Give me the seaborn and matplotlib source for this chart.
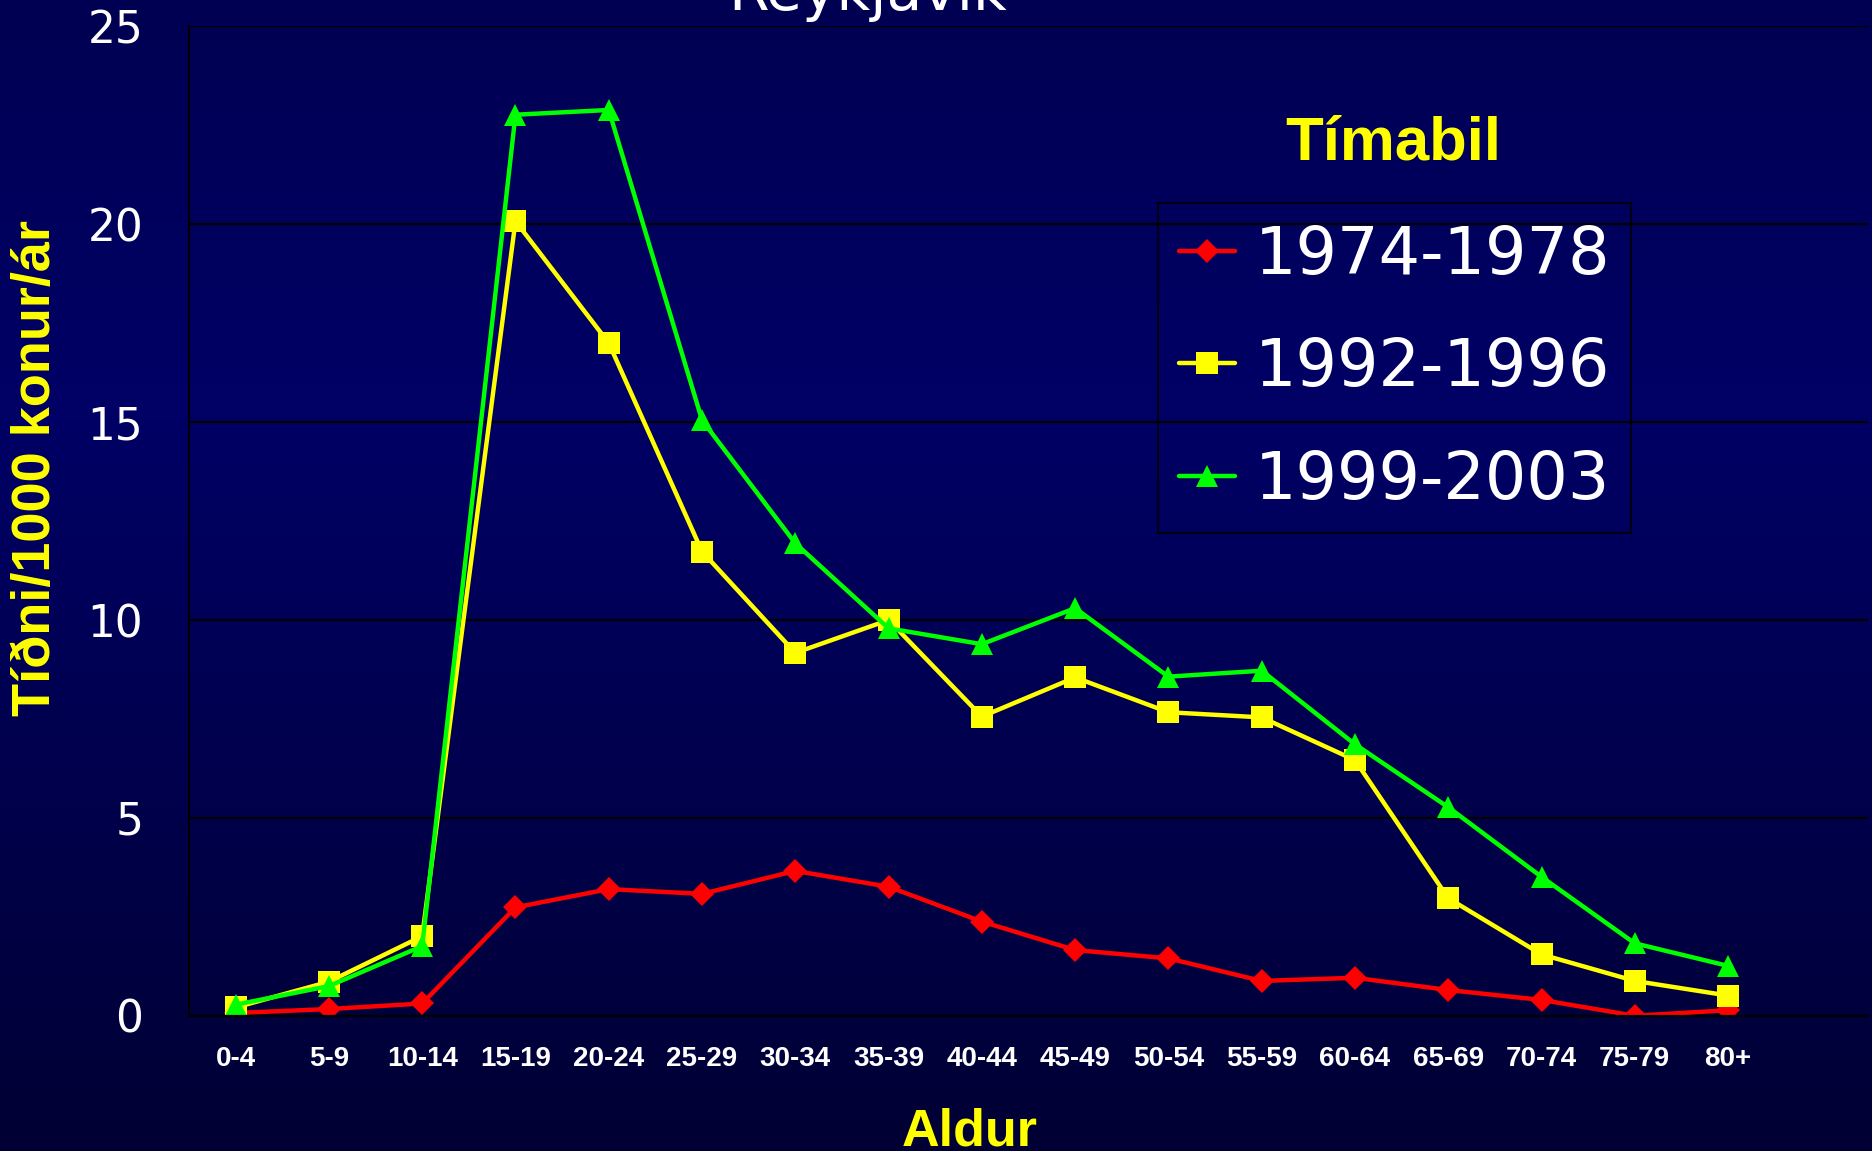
import numpy as np
import pandas as pd
import seaborn as sns
import matplotlib.pyplot as plt

age_groups = ["0-4", "5-9", "10-14", "15-19", "20-24", "25-29", "30-34", "35-39",
              "40-44", "45-49", "50-54", "55-59", "60-64", "65-69", "70-74",
              "75-79", "80+"]

rate_1974_1978 = [0.07, 0.17, 0.31, 2.74, 3.20, 3.08, 3.66, 3.26, 2.38, 1.66,
                  1.45, 0.88, 0.96, 0.65, 0.40, 0.0, 0.14]
rate_1992_1996 = [0.21, 0.86, 2.01, 20.08, 17.0, 11.73, 9.17, 10.0, 7.56, 8.55,
                  7.67, 7.54, 6.46, 2.97, 1.55, 0.88, 0.51]
rate_1999_2003 = [0.28, 0.75, 1.76, 22.77, 22.89, 15.05, 11.94, 9.79, 9.39, 10.30,
                  8.57, 8.72, 6.86, 5.27, 3.51, 1.83, 1.26]

periods = ["1974-1978", "1992-1996", "1999-2003"]
y_ticks = [0, 5, 10, 15, 20, 25]

title = "Reykjavík"
x_label = "Aldur"
y_label = "Tíðni/1000 konur/ár"
legend_title = "Tímabil"

series = {
    "1974-1978": dict(values=rate_1974_1978, color="#ff0000", marker="D", ms=12),
    "1992-1996": dict(values=rate_1992_1996, color="#ffff00", marker="s", ms=15.5),
    "1999-2003": dict(values=rate_1999_2003, color="#00ff00", marker="^", ms=16.5),
}

sns.set_style("white")
plt.rcParams["font.family"] = ["DejaVu Sans"]

fig = plt.figure(figsize=(18.72, 11.51), dpi=100)

# vertical navy gradient behind everything
bg = fig.add_axes([0, 0, 1, 1])
stops_y = [0.0, 0.35, 1.0]
stops_b = [82, 102, 52]
grad = np.interp(np.linspace(0, 1, 512), stops_y, stops_b) / 255.0
img = np.zeros((512, 2, 3))
img[:, :, 2] = grad[:, None]
bg.imshow(img, aspect="auto", extent=[0, 1, 0, 1])
bg.set_axis_off()

ax = fig.add_axes([189 / 1872, 0.1175, 1679 / 1872, 0.8595])
ax.set_zorder(1)
ax.patch.set_alpha(0)

x = np.arange(len(age_groups))
for name in periods:
    s = series[name]
    df = pd.DataFrame({"pos": x, "rate": s["values"]})
    sns.lineplot(data=df, x="pos", y="rate", ax=ax, color=s["color"],
                 linewidth=3.2, marker=s["marker"], markersize=s["ms"],
                 markeredgewidth=0, markeredgecolor=s["color"], label=name,
                 sort=False)

ax.set_xlim(-0.5, 17.5)
ax.set_ylim(0, 25)
ax.set_yticks(y_ticks)
ax.set_yticklabels([str(v) for v in y_ticks], color="white", fontsize=31.5)
ax.set_xticks(x)
ax.set_xticklabels(age_groups, color="white", fontsize=20,
                   fontfamily="Liberation Sans", fontweight="bold")
ax.set_xticks(np.arange(-0.5, 18.0, 1.0), minor=True)
ax.tick_params(axis="x", which="major", length=0, pad=22)
ax.tick_params(axis="x", which="minor", length=6.5, width=1.2, color="black",
               direction="out")
ax.tick_params(axis="y", which="major", length=12, width=1.5, color="black",
               pad=21, direction="out")
ax.set_xlabel("")
ax.set_ylabel("")

ax.grid(axis="y", color="black", linewidth=1.6)
ax.grid(axis="x", visible=False)
ax.set_axisbelow(True)
for side in ["top", "right"]:
    ax.spines[side].set_visible(False)
ax.spines["left"].set_color("black")
ax.spines["left"].set_linewidth(1.5)
ax.spines["bottom"].set_color("black")
ax.spines["bottom"].set_linewidth(1.6)

leg = ax.legend(loc="upper left", bbox_to_anchor=(1158 / 1872, 1 - 203 / 1151),
                bbox_transform=fig.transFigure, fontsize=47, frameon=True,
                handlelength=0.86, handletextpad=0.3, borderpad=0.32,
                labelspacing=0.74, borderaxespad=0, fancybox=False)
leg.get_frame().set_facecolor("none")
leg.get_frame().set_edgecolor("black")
leg.get_frame().set_linewidth(1.5)
for t in leg.get_texts():
    t.set_color("white")

fig.text(868 / 1872, 1 - 10 / 1151, title, color="white", fontsize=42,
         ha="center", va="baseline")
fig.text(970 / 1872, 5 / 1151, x_label, color="#ffff00", fontsize=37.5,
         fontfamily="Liberation Sans", fontweight="bold", ha="center",
         va="baseline")
fig.text(36 / 1872, 1 - 468 / 1151, y_label, color="#ffff00", fontsize=39,
         fontfamily="Liberation Sans", fontweight="bold", rotation=90,
         ha="center", va="center")
fig.text(1393 / 1872, 1 - 160 / 1151, legend_title, color="#ffff00",
         fontsize=44.5, fontfamily="Liberation Sans", fontweight="bold",
         ha="center", va="baseline")

fig.savefig("out.png", dpi=100)
